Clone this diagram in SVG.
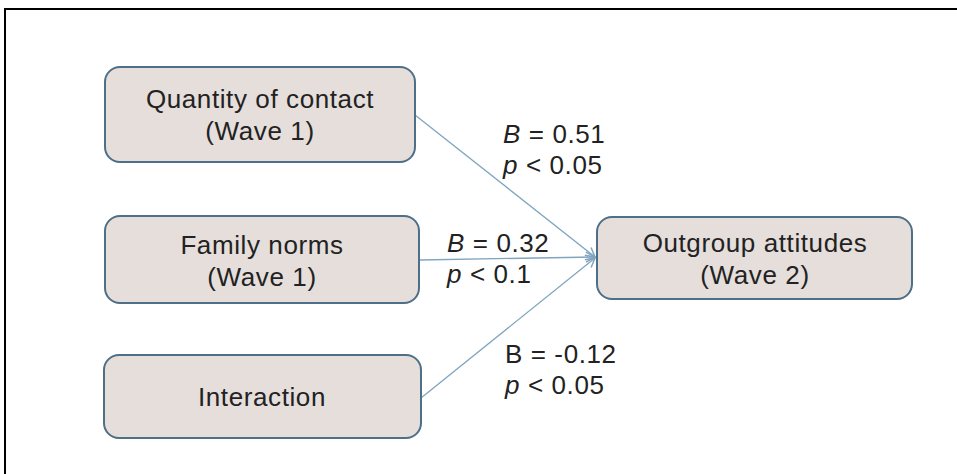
<svg xmlns="http://www.w3.org/2000/svg" width="957" height="474" viewBox="0 0 957 474">
<style>
.box{fill:#e5dedb;stroke:#4d6f88;stroke-width:2}
.t{font-family:"Liberation Sans",Arial,sans-serif;font-size:26px;letter-spacing:0.6px;fill:#222;text-anchor:middle}
.l{font-family:"Liberation Sans",Arial,sans-serif;font-size:26px;letter-spacing:0.6px;fill:#222}
.c{stroke:#7fa5bf;stroke-width:1.3;fill:none}
</style>
<defs>
<marker id="ah" markerWidth="12" markerHeight="12" refX="10" refY="6" orient="auto" markerUnits="userSpaceOnUse">
<path d="M1,1 L10,6 L1,11" fill="none" stroke="#7fa5bf" stroke-width="1.5"/>
</marker>
</defs>
<rect x="0" y="0" width="957" height="474" fill="#fff"/>
<rect x="5" y="9" width="1000" height="500" fill="none" stroke="#000" stroke-width="2"/>
<g id="connectors">
<line class="c" x1="415" y1="115" x2="595" y2="257" marker-end="url(#ah)"/>
<line class="c" x1="420" y1="260" x2="595" y2="257" marker-end="url(#ah)"/>
<line class="c" x1="421" y1="398" x2="595" y2="258" marker-end="url(#ah)"/>
<text class="l" x="503" y="143"><tspan font-style="italic">B</tspan> = 0.51</text>
<text class="l" x="503" y="174"><tspan font-style="italic">p</tspan> &lt; 0.05</text>
<text class="l" x="447" y="252"><tspan font-style="italic">B</tspan> = 0.32</text>
<text class="l" x="447" y="283"><tspan font-style="italic">p</tspan> &lt; 0.1</text>
<text class="l" x="505" y="363">B = -0.12</text>
<text class="l" x="505" y="394"><tspan font-style="italic">p</tspan> &lt; 0.05</text>
</g>
<g id="quantity">
<rect class="box" x="105" y="67" width="310" height="95" rx="15"/>
<text class="t" x="260" y="108">Quantity of contact</text>
<text class="t" x="260" y="140">(Wave 1)</text>
</g>
<g id="family">
<rect class="box" x="105" y="216" width="314" height="87" rx="15"/>
<text class="t" x="262" y="254">Family norms</text>
<text class="t" x="262" y="286">(Wave 1)</text>
</g>
<g id="interaction">
<rect class="box" x="104" y="355" width="317" height="83" rx="15"/>
<text class="t" x="262" y="406">Interaction</text>
</g>
<g id="outgroup">
<rect class="box" x="597" y="217" width="315" height="82" rx="15"/>
<text class="t" x="755" y="252">Outgroup attitudes</text>
<text class="t" x="755" y="284">(Wave 2)</text>
</g>
</svg>
